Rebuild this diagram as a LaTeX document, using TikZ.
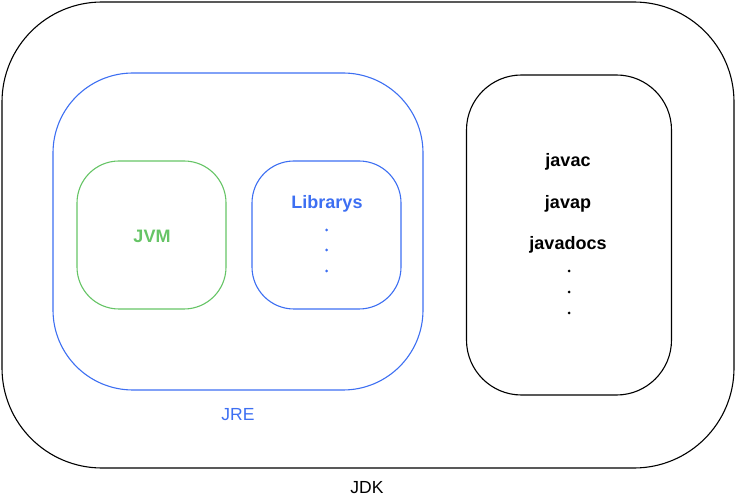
\documentclass[tikz,border=0pt]{standalone}
\usepackage{fontspec}
\setmainfont{Liberation Sans}
\definecolor{jblue}{HTML}{3D6FF2}
\definecolor{jgreen}{HTML}{66C466}
\begin{document}
\begin{tikzpicture}[x=1pt,y=-1pt,
  box/.style={draw, line width=1.1pt, fill=none, inner sep=0pt},
  lbl/.style={font=\fontsize{17.5}{17.5}\selectfont, inner sep=0pt},
  blbl/.style={font=\fontsize{18}{18}\selectfont\bfseries, inner sep=0pt}]
\useasboundingbox (0,0) rectangle (736,502);
% JDK
\node[box, black, rounded corners=100pt, minimum width=732pt, minimum height=466pt] (jdk) at (368,235) {};
\node[lbl] (jdkl) at (367,488) {JDK};
% JRE
\node[box, jblue, rounded corners=80pt, minimum width=370pt, minimum height=317pt] (jre) at (238,231.5) {};
\node[lbl, text=jblue] (jrel) at (238,415) {JRE};
% JVM
\node[box, jgreen, rounded corners=42pt, minimum width=149pt, minimum height=148pt] (jvm) at (151.5,235) {};
\node[blbl, text=jgreen] (jvml) at (152,236) {JVM};
% Librarys
\node[box, jblue, rounded corners=42pt, minimum width=149pt, minimum height=148pt] (lib) at (326.5,235) {};
\node[blbl, text=jblue] (libl) at (327,204) {Librarys};
\foreach \y/\n in {230/a,250/b,271/c}{
  \node[circle, fill=jblue, inner sep=0pt, minimum size=3pt] (libd\n) at (326.5,\y) {};
}
% tools
\node[box, black, rounded corners=55pt, minimum width=205pt, minimum height=320pt] (tools) at (569,235) {};
\node[blbl] (javac) at (568,162) {javac};
\node[blbl] (javap) at (568,204) {javap};
\node[blbl] (javadocs) at (568,245) {javadocs};
\foreach \y/\n in {271/a,292/b,313/c}{
  \node[circle, fill=black, inner sep=0pt, minimum size=3pt] (toold\n) at (569,\y) {};
}
\end{tikzpicture}
\end{document}
